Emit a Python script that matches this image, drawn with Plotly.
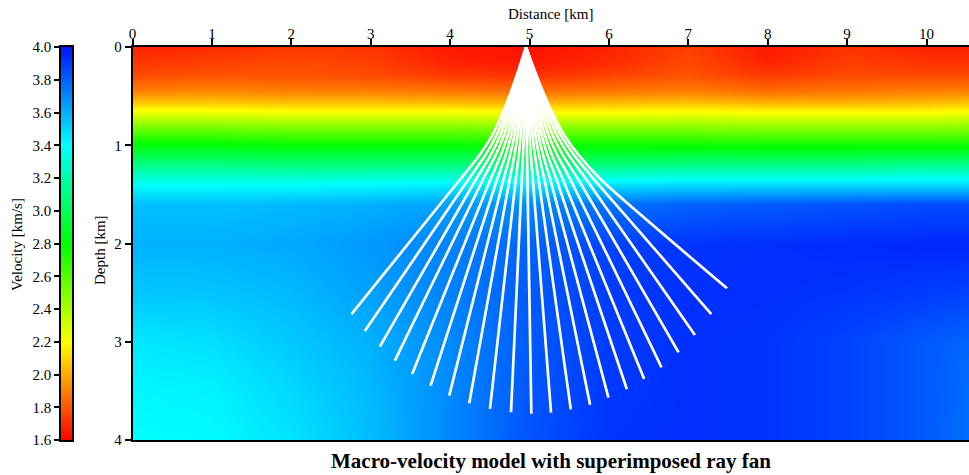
import plotly.graph_objects as go

# ---------------- data ----------------
dist_nodes = [0, 1, 2, 3, 4, 5, 6, 7, 8, 9, 10, 10.6]
depth_nodes = [0, 0.15, 0.3, 0.45, 0.55, 0.65, 0.8, 1.0, 1.2, 1.4, 1.6, 2.0, 2.5, 3.0, 3.5, 4.0]
velocity = [
    [1.68, 1.70, 1.73, 1.72, 1.66, 1.64, 1.68, 1.75, 1.66, 1.72, 1.68, 1.68],
    [1.72, 1.75, 1.77, 1.75, 1.68, 1.66, 1.70, 1.77, 1.68, 1.74, 1.72, 1.72],
    [1.78, 1.80, 1.80, 1.78, 1.74, 1.72, 1.76, 1.80, 1.74, 1.78, 1.78, 1.78],
    [1.90, 1.92, 1.90, 1.90, 1.88, 1.86, 1.88, 1.90, 1.86, 1.88, 1.90, 1.90],
    [2.05, 2.05, 2.03, 2.03, 2.02, 2.00, 2.02, 2.03, 2.00, 2.00, 2.02, 2.04],
    [2.22, 2.22, 2.20, 2.20, 2.20, 2.18, 2.18, 2.20, 2.18, 2.18, 2.18, 2.20],
    [2.50, 2.50, 2.48, 2.48, 2.48, 2.46, 2.46, 2.46, 2.45, 2.45, 2.45, 2.46],
    [2.82, 2.82, 2.80, 2.80, 2.80, 2.78, 2.78, 2.78, 2.77, 2.77, 2.77, 2.77],
    [3.12, 3.12, 3.10, 3.10, 3.10, 3.10, 3.10, 3.12, 3.12, 3.12, 3.14, 3.14],
    [3.40, 3.40, 3.40, 3.42, 3.44, 3.46, 3.48, 3.50, 3.50, 3.50, 3.50, 3.50],
    [3.56, 3.56, 3.58, 3.60, 3.64, 3.70, 3.76, 3.80, 3.82, 3.84, 3.86, 3.86],
    [3.60, 3.60, 3.62, 3.66, 3.72, 3.80, 3.88, 3.92, 3.93, 3.94, 3.95, 3.95],
    [3.54, 3.55, 3.58, 3.64, 3.72, 3.82, 3.90, 3.93, 3.93, 3.92, 3.90, 3.88],
    [3.46, 3.48, 3.54, 3.60, 3.70, 3.82, 3.90, 3.93, 3.92, 3.88, 3.82, 3.79],
    [3.42, 3.43, 3.50, 3.58, 3.70, 3.83, 3.91, 3.93, 3.92, 3.88, 3.82, 3.77],
    [3.40, 3.41, 3.47, 3.57, 3.70, 3.84, 3.92, 3.93, 3.92, 3.88, 3.82, 3.76],
]

source_x = 4.955
# x where each ray crosses the base of the gradient zone (depth 1.354 km)
ray_bend_x = [4.120, 4.225, 4.320, 4.410, 4.504, 4.589, 4.670, 4.748, 4.826, 4.902, 4.974,
              5.043, 5.116, 5.189, 5.264, 5.343, 5.424, 5.518, 5.618, 5.721, 5.819, 5.905]
ray_end_x = [2.758, 2.926, 3.115, 3.304, 3.522, 3.754, 3.989, 4.241, 4.502, 4.767, 5.023,
             5.271, 5.520, 5.763, 5.994, 6.226, 6.444, 6.662, 6.877, 7.083, 7.289, 7.487]
ray_end_z = [2.718, 2.891, 3.050, 3.193, 3.328, 3.447, 3.549, 3.627, 3.684, 3.718, 3.732,
             3.722, 3.688, 3.641, 3.569, 3.484, 3.379, 3.260, 3.108, 2.931, 2.718, 2.456]
# shape of the curved part: share of the bend offset reached at each depth
upper_depths = [0.0, 0.25, 0.5, 0.7, 0.9, 1.1, 1.354]
upper_share = [0.0, 0.12, 0.25, 0.37, 0.51, 0.70, 1.0]

cbar_ticks = [1.6, 1.8, 2.0, 2.2, 2.4, 2.6, 2.8, 3.0, 3.2, 3.4, 3.6, 3.8, 4.0]
dist_ticks = [0, 1, 2, 3, 4, 5, 6, 7, 8, 9, 10]
depth_ticks = [0, 1, 2, 3, 4]

vmin, vmax = 1.6, 4.0
colorscale = [[0.0, "rgb(255,0,0)"], [0.25, "rgb(255,255,0)"], [0.5, "rgb(0,255,0)"],
              [0.75, "rgb(0,255,255)"], [1.0, "rgb(0,20,255)"]]

FONT = "Liberation Serif"
W, H = 969, 475
PLOT_L, PLOT_R, PLOT_T, PLOT_B = 132.5, 969, 47, 440   # screen px
T = PLOT_T
B = H - PLOT_B
plot_h = H - T - B


def px_x(sx):
    return sx / W


def px_y(sy):
    return (PLOT_B - sy) / plot_h


fig = go.Figure()

fig.add_trace(go.Heatmap(
    x=dist_nodes, y=depth_nodes, z=velocity,
    colorscale=colorscale, zmin=vmin, zmax=vmax, zsmooth="best",
    showscale=False, hoverinfo="skip", xaxis="x", yaxis="y"))

for i in range(len(ray_end_x)):
    xs = [source_x + s * (ray_bend_x[i] - source_x) for s in upper_share]
    zs = list(upper_depths)
    xs.append(ray_end_x[i])
    zs.append(ray_end_z[i])
    fig.add_trace(go.Scatter(
        x=xs, y=zs, mode="lines",
        line=dict(color="white", width=2.7, shape="spline", smoothing=0.6),
        hoverinfo="skip", showlegend=False, xaxis="x", yaxis="y"))

# vertical colour scale drawn as a narrow heatmap
cb_levels = [round(vmin + 0.02 * k, 3) for k in range(121)]
fig.add_trace(go.Heatmap(
    x=[0, 1], y=cb_levels, z=[[v, v] for v in cb_levels],
    colorscale=colorscale, zmin=vmin, zmax=vmax, zsmooth="best",
    showscale=False, hoverinfo="skip", xaxis="x2", yaxis="y2"))

axis_font = dict(family=FONT, size=15, color="black")

fig.update_layout(
    width=W, height=H,
    margin=dict(l=0, r=0, t=T, b=B, pad=0),
    paper_bgcolor="white", plot_bgcolor="white",
    showlegend=False,
    font=dict(family=FONT, size=15, color="black"),
    xaxis=dict(domain=[px_x(PLOT_L), 1.0], range=[0, 10.535], side="top",
               tickvals=dist_ticks, ticks="outside", ticklen=6, tickwidth=1.5, tickcolor="black",
               ticklabelstandoff=-6,
               showline=True, linecolor="black", linewidth=1.5, mirror=True,
               showgrid=False, zeroline=False, tickfont=axis_font, automargin=False,
               anchor="y"),
    yaxis=dict(domain=[0, 1], range=[4, 0], tickvals=depth_ticks, ticks="outside",
               ticklen=6, tickwidth=1.5, tickcolor="black",
               showline=True, linecolor="black", linewidth=1.5, mirror=False,
               showgrid=False, zeroline=False, tickfont=axis_font, automargin=False,
               anchor="x"),
    xaxis2=dict(domain=[px_x(61), px_x(72)], range=[0, 1], showticklabels=False, ticks="",
                showline=True, linecolor="black", linewidth=1.5, mirror=True,
                showgrid=False, zeroline=False, anchor="y2", automargin=False),
    yaxis2=dict(domain=[0, 1], range=[vmin, vmax], tickvals=cbar_ticks,
                ticktext=[f"{v:.1f}" for v in cbar_ticks], ticks="outside", ticklen=5,
                tickwidth=1.5, tickcolor="black",
                showline=True, linecolor="black", linewidth=1.5, mirror=True,
                showgrid=False, zeroline=False, tickfont=axis_font, automargin=False,
                anchor="x2", side="left"),
    annotations=[
        dict(text="Distance [km]", xref="paper", yref="paper",
             x=px_x((PLOT_L + PLOT_R) / 2), y=px_y(14), showarrow=False,
             font=dict(family=FONT, size=15), xanchor="center", yanchor="middle"),
        dict(text="Depth [km]", xref="paper", yref="paper",
             x=px_x(100), y=px_y(250), showarrow=False, textangle=-90,
             font=dict(family=FONT, size=15), xanchor="center", yanchor="middle"),
        dict(text="Velocity [km/s]", xref="paper", yref="paper",
             x=px_x(17), y=px_y(245), showarrow=False, textangle=-90,
             font=dict(family=FONT, size=15), xanchor="center", yanchor="middle"),
        dict(text="<b>Macro-velocity model with superimposed ray fan</b>", xref="paper", yref="paper",
             x=px_x((PLOT_L + PLOT_R) / 2), y=px_y(461), showarrow=False,
             font=dict(family=FONT, size=21), xanchor="center", yanchor="middle"),
    ],
)

# remove the default 8px page margin so the figure fills the 969x475 window
fig.write_html("out.html", config={"displayModeBar": False},
               post_script="document.body.style.margin='0';document.body.style.overflow='hidden';")
